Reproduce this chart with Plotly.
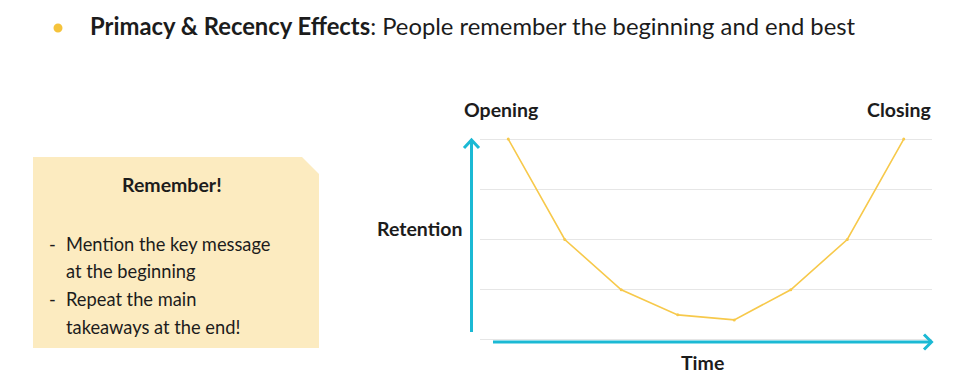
import plotly.graph_objects as go

# Data
stages = [1, 2, 3, 4, 5, 6, 7, 8]
retention = [4, 2, 1, 0.5, 0.4, 1, 2, 4]
gridvals = [0, 1, 2, 3, 4]

# page body adds an 8px margin; work in reference pixel coordinates and shift
OFF = 8
W, H = 960 - OFF, 380 - OFF
PAD = 0.1
UNIT = (340 - 139) / 4.0
L_ref, R_ref = 480, 932
T_ref, B_ref = 139 - PAD * UNIT, 340 + PAD * UNIT
L = L_ref - OFF
R = W - (R_ref - OFF)
T = T_ref - OFF
B = H - (B_ref - OFF)
PW = W - L - R
PH = H - T - B


def px(x):
    return (x - OFF - L) / PW


def py(y):
    return (H - B - (y - OFF)) / PH


CYAN = "#1bb9d4"
YEL = "#f7c94b"
FONT = "Lato"

fig = go.Figure()
fig.add_trace(go.Scatter(
    x=stages, y=retention, mode="lines+markers",
    line=dict(color=YEL, width=1.6),
    marker=dict(color=YEL, size=3),
    hoverinfo="skip", showlegend=False, cliponaxis=False,
))

shapes = []
bx0, by0, bx1, by1, cut = 33, 157, 319, 348, 17
path = (f"M {px(bx0)},{py(by0)} L {px(bx1 - cut)},{py(by0)} L {px(bx1)},{py(by0 + cut)} "
        f"L {px(bx1)},{py(by1)} L {px(bx0)},{py(by1)} Z")
shapes.append(dict(type="path", xref="paper", yref="paper", path=path,
                   fillcolor="#fcebc0", line=dict(width=0), layer="below"))
shapes.append(dict(type="circle", xref="paper", yref="paper",
                   x0=px(53.5), x1=px(62.5), y0=py(23.5), y1=py(32.5),
                   fillcolor="#f5c33b", line=dict(width=0)))
shapes.append(dict(type="line", xref="paper", yref="paper",
                   x0=px(471.5), x1=px(471.5), y0=py(332), y1=py(140.5),
                   line=dict(color=CYAN, width=3)))
shapes.append(dict(type="path", xref="paper", yref="paper",
                   path=f"M {px(464)},{py(148)} L {px(471.5)},{py(140)} L {px(479)},{py(148)}",
                   line=dict(color=CYAN, width=3)))
shapes.append(dict(type="line", xref="paper", yref="paper",
                   x0=px(493), x1=px(931), y0=py(342), y1=py(342),
                   line=dict(color=CYAN, width=3)))
shapes.append(dict(type="path", xref="paper", yref="paper",
                   path=f"M {px(924)},{py(334.5)} L {px(931.5)},{py(342)} L {px(924)},{py(349.5)}",
                   line=dict(color=CYAN, width=3)))

ann = []


def text(x, y, s, size, anchor="center", bold=False, color="#1c1c1c"):
    ann.append(dict(xref="paper", yref="paper", x=px(x), y=py(y), text=(f"<b>{s}</b>" if bold else s),
                    showarrow=False, xanchor=anchor, yanchor="middle",
                    font=dict(family=FONT, size=size, color=color)))


text(88, 26, "<b>Primacy & Recency Effects</b>: People remember the beginning and end best", 23.8, "left")
text(501, 109, "Opening", 19.5, "center", True)
text(933, 109, "Closing", 19.5, "right", True)
text(419, 228, "Retention", 19.5, "center", True)
text(702, 363, "Time", 19.5, "center", True)
text(172, 184, "Remember!", 19.5, "center", True)
LS = 18.3
text(52, 244, "-", LS, "center")
text(64, 244, "Mention the key message", LS, "left")
text(64, 271, "at the beginning", LS, "left")
text(52, 299, "-", LS, "center")
text(64, 299, "Repeat the main", LS, "left")
text(64, 327, "takeaways at the end!", LS, "left")

fig.update_layout(
    width=W, height=H,
    margin=dict(l=L, r=R, t=T, b=B),
    paper_bgcolor="white", plot_bgcolor="white",
    shapes=shapes, annotations=ann,
    xaxis=dict(range=[0.5, 8.5], showticklabels=False, showgrid=False,
               zeroline=False, showline=False, ticks=""),
    yaxis=dict(range=[-PAD, 4 + PAD], tickvals=gridvals, showticklabels=False,
               showgrid=True, gridcolor="#e6e6e6", gridwidth=1,
               zeroline=False, showline=False, ticks=""),
)

fig.write_html("out.html")
